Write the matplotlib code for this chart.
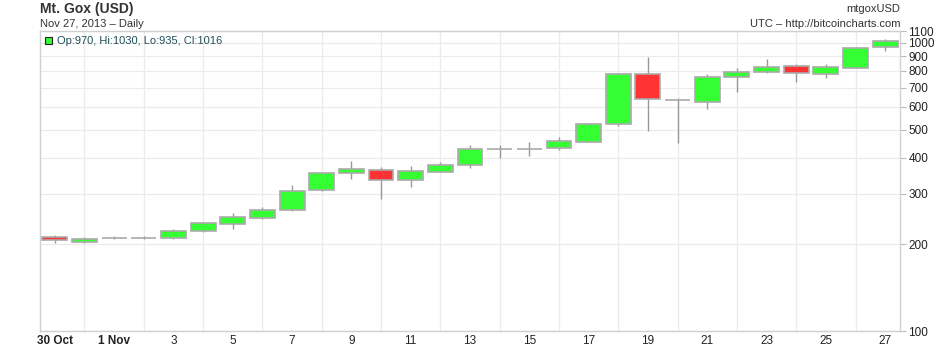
import matplotlib
matplotlib.use("Agg")
import matplotlib.pyplot as plt
from matplotlib.patches import Rectangle
from matplotlib.ticker import FixedLocator, NullFormatter
import numpy as np

plt.rcParams["font.family"] = ["Liberation Sans", "DejaVu Sans"]

# daily OHLC, Mt. Gox USD, 30 Oct .. 27 Nov 2013
days = ["30 Oct", "31 Oct", "1 Nov", "2", "3", "4", "5", "6", "7", "8", "9", "10",
        "11", "12", "13", "14", "15", "16", "17", "18", "19", "20", "21", "22",
        "23", "24", "25", "26", "27"]
opens = [212.5, 204, 211, 211, 210, 222, 236, 247.5, 263, 308, 353, 361, 335, 357,
         376, 428.5, 428.5, 431, 454, 522, 779, 636, 624, 760, 791, 830, 780, 821, 970]
highs = [215, 212, 213, 213.5, 226.5, 239, 257, 269, 321, 354, 390, 370, 373, 387,
         442, 442, 452, 471, 529, 785, 892, 643, 779, 817, 878, 843, 843, 966, 1030]
lows = [202.5, 202, 208, 208, 208.5, 220, 226.5, 245, 261, 305, 336, 287, 317, 355.5,
        367, 398, 406, 424, 452, 515, 496, 448, 589, 675, 786, 734, 754, 817, 935]
closes = [206.5, 209, 211, 211, 222, 236.5, 248, 263, 306, 353, 364, 334, 358.5, 376,
          430, 428.5, 428.5, 456, 522, 779, 638, 636, 760, 791, 823.5, 785, 824, 959, 1016]

y_ticks = [100, 200, 300, 400, 500, 600, 700, 800, 900, 1000, 1100]

GREEN = "#33ff33"
RED = "#ff3333"
EDGE = "#aaaaaa"
WICK = "#999999"

fig = plt.figure(figsize=(9.4, 3.48), dpi=100)
ax = fig.add_axes([40 / 940, 1 - 331 / 348, 860 / 940, 300 / 348])

x = np.arange(len(days))
o = np.array(opens)
c = np.array(closes)

ax.vlines(x, lows, highs, color=WICK, linewidth=1.0, zorder=2)
colors = [GREEN if cc > oo else (RED if cc < oo else "#aaaaaa") for oo, cc in zip(o, c)]
bottoms = np.minimum(o, c)
heights = np.abs(c - o)
ax.bar(x, heights, bottom=bottoms, width=0.84, color=colors, edgecolor=EDGE,
       linewidth=1.2, zorder=3)

ax.set_yscale("log")
ax.set_ylim(100, 1100)
ax.set_xlim(-0.5, len(days) - 0.5)

ax.yaxis.set_major_locator(FixedLocator(y_ticks))
ax.yaxis.set_minor_locator(FixedLocator([]))
ax.yaxis.set_minor_formatter(NullFormatter())
ax.set_yticklabels([str(v) for v in y_ticks])
ax.yaxis.tick_right()

ax.set_xticks(x[::2])
ax.set_xticklabels(days[::2])
ax.set_xticks(x, minor=True)
for lbl in ax.get_xticklabels()[:2]:
    lbl.set_fontweight("bold")

ax.tick_params(axis="y", which="major", length=4, color="#bbbbbb", labelsize=8.5,
               labelcolor="#222222", pad=2)
ax.tick_params(axis="x", which="both", length=0, labelsize=8.5, labelcolor="#222222", pad=3)

ax.grid(True, which="major", axis="y", color="#ebebeb", linewidth=0.9, zorder=0)
ax.grid(True, which="minor", axis="x", color="#ebebeb", linewidth=0.9, zorder=0)
ax.set_axisbelow(True)

for s in ax.spines.values():
    s.set_color("#d0d0d0")
    s.set_linewidth(1.0)

# header texts
fig.text(40 / 940, 1 - 9 / 348, "Mt. Gox (USD)", fontsize=10, fontweight="bold",
         color="#333333", va="center", ha="left")
fig.text(40 / 940, 1 - 24 / 348, "Nov 27, 2013 \u2013 Daily", fontsize=8,
         color="#333333", va="center", ha="left")
fig.text(900 / 940, 1 - 9 / 348, "mtgoxUSD", fontsize=8, color="#333333",
         va="center", ha="right")
fig.text(900 / 940, 1 - 24 / 348, "UTC \u2013 http://bitcoincharts.com", fontsize=8,
         color="#333333", va="center", ha="right")

# last candle info box
fig.patches.append(Rectangle((45 / 940, 1 - 44 / 348), 7 / 940, 7 / 348,
                             transform=fig.transFigure, facecolor=GREEN,
                             edgecolor="#222222", linewidth=0.8))
fig.text(57 / 940, 1 - 40.5 / 348,
         f"Op:{opens[-1]:.0f}, Hi:{highs[-1]:.0f}, Lo:{lows[-1]:.0f}, Cl:{closes[-1]:.0f}",
         fontsize=8, color="#1f4f5a", va="center", ha="left")

fig.savefig("out.png", dpi=100, facecolor="white")
